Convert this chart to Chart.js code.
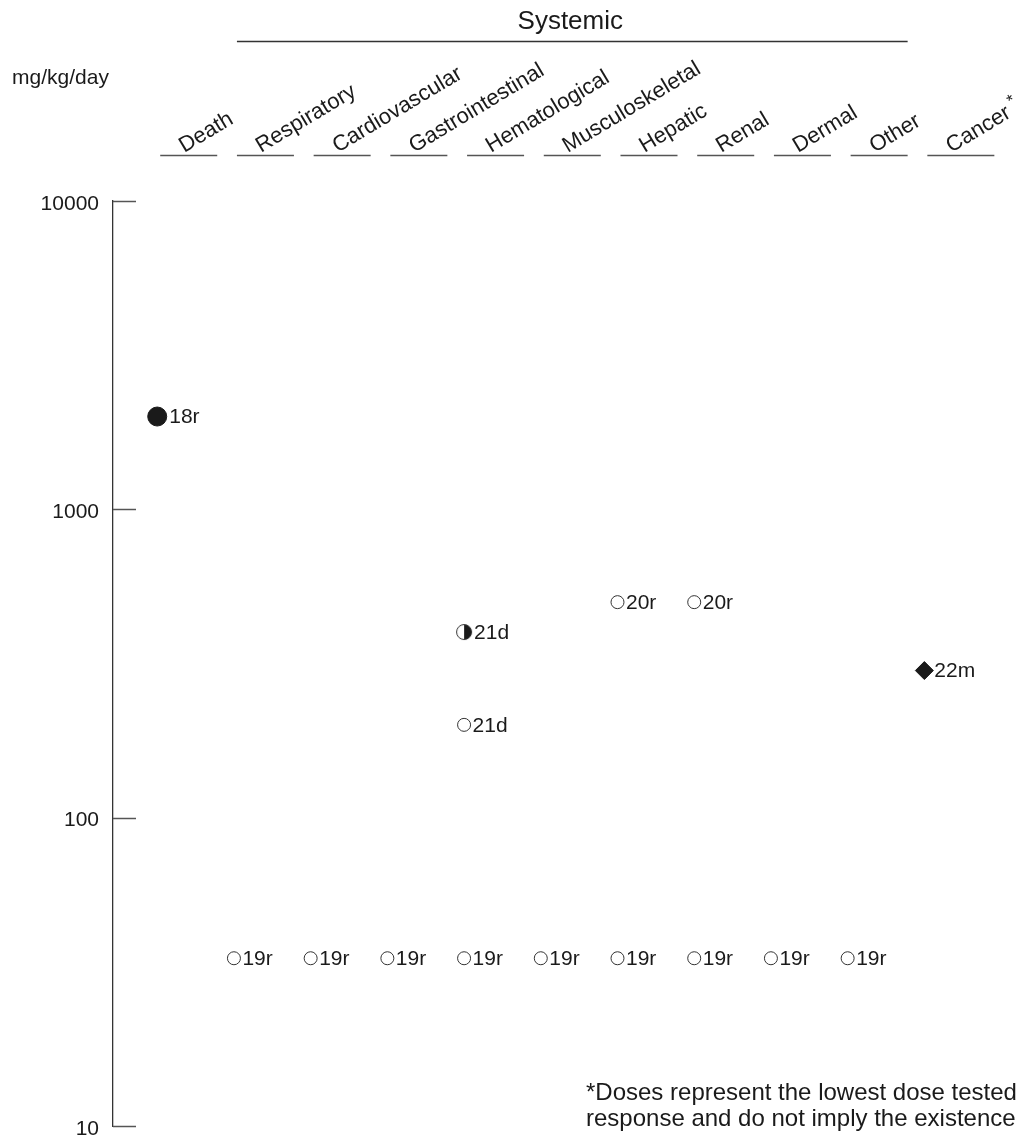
<!DOCTYPE html>
<html>
<head>
<meta charset="utf-8">
<script src="https://cdn.jsdelivr.net/npm/chart.js@4.4.1/dist/chart.umd.min.js"></script>
<style>
  html, body { margin: 0; padding: 0; background: #ffffff; }
  #wrap { width: 1020px; height: 1139px; }
</style>
</head>
<body>
<div id="wrap"><canvas id="chart" width="1020" height="1139"></canvas></div>
<script>
// Effect categories along the top, left to right
const categories = ['Death', 'Respiratory', 'Cardiovascular', 'Gastrointestinal', 'Hematological',
  'Musculoskeletal', 'Hepatic', 'Renal', 'Dermal', 'Other', 'Cancer'];
const yTicks = [10, 100, 1000, 10000];
const groupTitle = 'Systemic';
const unitLabel = 'mg/kg/day';
const footnoteLines = ['*Doses represent the lowest dose tested', 'response and do not imply the existence'];

// Serious effect levels (filled circle)
const seriousCats = ['Death'];
const seriousDoses = [2000];
const seriousKeys = ['18r'];

// Less serious effect levels (half-filled circle)
const lessSeriousCats = ['Hematological'];
const lessSeriousDoses = [400];
const lessSeriousKeys = ['21d'];

// No observed effect levels (open circle)
const noEffectCats = ['Respiratory', 'Cardiovascular', 'Gastrointestinal', 'Hematological', 'Musculoskeletal',
  'Hepatic', 'Renal', 'Dermal', 'Other', 'Hematological', 'Hepatic', 'Renal'];
const noEffectDoses = [35, 35, 35, 35, 35, 35, 35, 35, 35, 200, 500, 500];
const noEffectKeys = ['19r', '19r', '19r', '19r', '19r', '19r', '19r', '19r', '19r', '21d', '20r', '20r'];

// Cancer effect levels (diamond)
const cancerCats = ['Cancer'];
const cancerDoses = [300];
const cancerKeys = ['22m'];

const INK = '#1a1a1a';
const FONT = '"Liberation Sans", Arial, Helvetica, sans-serif';

function toPoints(cats, doses) {
  return cats.map((c, i) => ({ x: categories.indexOf(c), y: doses[i] }));
}

// Half-filled circle marker (right half dark)
function halfCircle(r) {
  const s = Math.ceil(r * 2 + 3);
  const cv = document.createElement('canvas');
  cv.width = s; cv.height = s;
  const c = cv.getContext('2d');
  const m = s / 2;
  c.beginPath(); c.arc(m, m, r, 0, Math.PI * 2); c.fillStyle = '#ffffff'; c.fill();
  c.beginPath(); c.arc(m, m, r, -Math.PI / 2, Math.PI / 2); c.closePath(); c.fillStyle = INK; c.fill();
  c.beginPath(); c.arc(m, m, r, 0, Math.PI * 2); c.lineWidth = 1; c.strokeStyle = '#333333'; c.stroke();
  return cv;
}

// Text written next to each marker, header labels, axis tick marks and footnote
const decorations = {
  id: 'decorations',
  afterDraw(chart) {
    const ctx = chart.ctx;
    const xs = chart.scales.x;
    const ys = chart.scales.y;
    const area = chart.chartArea;
    ctx.save();

    // tick marks pointing into the plot
    ctx.strokeStyle = '#555555';
    ctx.lineWidth = 1.5;
    yTicks.forEach(v => {
      const y = Math.round(ys.getPixelForValue(v)) + 0.5;
      ctx.beginPath(); ctx.moveTo(area.left, y); ctx.lineTo(area.left + 23, y); ctx.stroke();
    });

    // marker labels
    ctx.fillStyle = INK;
    ctx.font = '21px ' + FONT;
    ctx.textAlign = 'left';
    ctx.textBaseline = 'middle';
    chart.data.datasets.forEach((ds, di) => {
      const meta = chart.getDatasetMeta(di);
      meta.data.forEach((el, i) => {
        ctx.fillText(ds.keys[i], el.x + ds.labelGap, el.y + 1);
      });
    });

    // underline and rotated name for each category
    categories.forEach((name, i) => {
      const px = xs.getPixelForValue(i);
      const x0 = px + 3;
      const w = name === 'Cancer' ? 67 : 57;
      ctx.strokeStyle = '#555555';
      ctx.lineWidth = 1.5;
      ctx.beginPath(); ctx.moveTo(x0, 155.5); ctx.lineTo(x0 + w, 155.5); ctx.stroke();

      ctx.save();
      ctx.translate(x0 + 24, 153);
      ctx.rotate(-31 * Math.PI / 180);
      ctx.fillStyle = INK;
      ctx.font = '22px ' + FONT;
      ctx.textAlign = 'left';
      ctx.textBaseline = 'alphabetic';
      ctx.fillText(name, 0, 0);
      if (name === 'Cancer') {
        const tw = ctx.measureText(name + ' ').width;
        ctx.font = '17px ' + FONT;
        ctx.fillText('*', tw - 2, -9);
      }
      ctx.restore();
    });

    // group bracket over the systemic categories
    const gx0 = xs.getPixelForValue(1) + 3;
    const gx1 = xs.getPixelForValue(9) + 60;
    ctx.strokeStyle = '#333333';
    ctx.lineWidth = 1.5;
    ctx.beginPath(); ctx.moveTo(gx0, 41.5); ctx.lineTo(gx1, 41.5); ctx.stroke();
    ctx.fillStyle = INK;
    ctx.font = '26px ' + FONT;
    ctx.textAlign = 'center';
    ctx.textBaseline = 'alphabetic';
    ctx.fillText(groupTitle, (gx0 + gx1) / 2 - 2, 29);

    // unit label
    ctx.font = '21px ' + FONT;
    ctx.textAlign = 'left';
    ctx.fillText(unitLabel, 12, 84);

    // footnote
    ctx.font = '24px ' + FONT;
    ctx.fillText(footnoteLines[0], 586, 1100);
    ctx.fillText(footnoteLines[1], 586, 1126);

    ctx.restore();
  }
};

new Chart(document.getElementById('chart'), {
  type: 'scatter',
  data: {
    datasets: [
      {
        data: toPoints(seriousCats, seriousDoses), keys: seriousKeys, labelGap: 12,
        pointStyle: 'circle', pointRadius: 9.5, pointBackgroundColor: INK, pointBorderColor: INK, pointBorderWidth: 1
      },
      {
        data: toPoints(lessSeriousCats, lessSeriousDoses), keys: lessSeriousKeys, labelGap: 10,
        pointStyle: halfCircle(7.5), pointRadius: 8
      },
      {
        data: toPoints(noEffectCats, noEffectDoses), keys: noEffectKeys, labelGap: 8.5,
        pointStyle: 'circle', pointRadius: 6.5, pointBackgroundColor: '#ffffff', pointBorderColor: '#333333', pointBorderWidth: 1
      },
      {
        data: toPoints(cancerCats, cancerDoses), keys: cancerKeys, labelGap: 10,
        pointStyle: 'rectRot', pointRadius: 9, pointBackgroundColor: INK, pointBorderColor: INK, pointBorderWidth: 1
      }
    ]
  },
  options: {
    responsive: false,
    animation: false,
    devicePixelRatio: 1,
    layout: { padding: { top: 201, bottom: 13, left: 0, right: 0 } },
    plugins: { legend: { display: false }, tooltip: { enabled: false } },
    events: [],
    scales: {
      x: {
        type: 'linear',
        display: false,
        min: -0.5765,
        max: 11.11
      },
      y: {
        type: 'logarithmic',
        position: 'left',
        min: 10,
        max: 10000,
        afterBuildTicks: scale => { scale.ticks = yTicks.map(v => ({ value: v })); },
        afterFit: scale => { scale.width = 113; scale.paddingTop = 0; scale.paddingBottom = 0; },
        grid: { display: false, drawTicks: false, tickLength: 0 },
        border: { display: true, color: '#333333', width: 1.3 },
        ticks: {
          padding: 14,
          labelOffset: 3,
          color: INK,
          font: { family: FONT, size: 21 },
          callback: v => String(v)
        }
      }
    }
  },
  plugins: [decorations]
});
</script>
</body>
</html>
